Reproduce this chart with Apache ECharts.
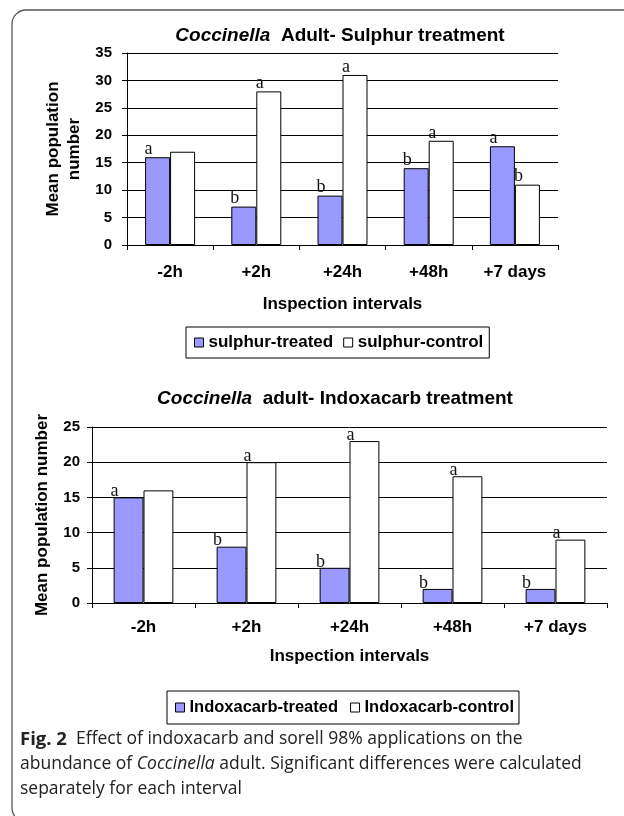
<!DOCTYPE html>
<html>
<head>
<meta charset="utf-8">
<script src="https://cdn.jsdelivr.net/npm/echarts@6/dist/echarts.min.js"></script>
<style>
html,body{margin:0;padding:0;background:#fff;}
#chart{width:624px;height:816px;}
</style>
</head>
<body>
<div id="chart"></div>
<script>
const categories = ['-2h', '+2h', '+24h', '+48h', '+7 days'];

const sulphurTreated = [16, 7, 9, 14, 18];
const sulphurControl = [17, 28, 31, 19, 11];
const sulphurTreatedLetters = ['a', 'b', 'b', 'b', 'a'];
const sulphurControlLetters = ['', 'a', 'a', 'a', 'b'];

const indoxTreated = [15, 8, 5, 2, 2];
const indoxControl = [16, 20, 23, 18, 9];
const indoxTreatedLetters = ['a', 'b', 'b', 'b', 'b'];
const indoxControlLetters = ['', 'a', 'a', 'a', 'a'];

const sulphurYMax = 35, sulphurYStep = 5;
const indoxYMax = 25, indoxYStep = 5;

const SANS = '"Liberation Sans", Arial, sans-serif';
const SERIF = '"Liberation Serif", "Times New Roman", serif';
const TREATED = '#9999FF';

function withLetters(values, letters) {
  return values.map((v, i) => ({ value: v, letter: letters[i] }));
}

function letterLabel(offsetX, dist) {
  return {
    show: true, position: 'top', distance: dist, offset: [offsetX, 0],
    fontFamily: SERIF, fontSize: 18, color: '#111',
    formatter: p => p.data.letter || ''
  };
}

function xAxisCfg(gridIndex, margin, nameGap) {
  return {
    type: 'category', gridIndex, data: categories,
    name: 'Inspection intervals', nameLocation: 'middle', nameGap,
    nameTextStyle: { fontFamily: SANS, fontWeight: 'bold', fontSize: 17, color: '#000' },
    axisLine: { lineStyle: { color: '#000', width: 1 } },
    axisTick: { show: true, length: 5, lineStyle: { color: '#000' } },
    axisLabel: { margin, fontFamily: SANS, fontWeight: 'bold', fontSize: 17, color: '#000' }
  };
}

function yAxisCfg(gridIndex, max, step, name, nameGap, margin) {
  return {
    type: 'value', gridIndex, min: 0, max, interval: step,
    name, nameLocation: 'middle', nameGap, nameRotate: 90,
    nameTextStyle: { fontFamily: SANS, fontWeight: 'bold', fontSize: 17, color: '#000', lineHeight: 21 },
    axisLine: { show: true, lineStyle: { color: '#000', width: 1 } },
    axisTick: { show: true, length: 5, lineStyle: { color: '#000' } },
    axisLabel: { margin, fontFamily: SANS, fontWeight: 'bold', fontSize: 15, color: '#000' },
    splitLine: { show: true, lineStyle: { color: '#000', width: 1 } }
  };
}

function barSeries(name, data, axisIdx, color, lx, ld) {
  return {
    type: 'bar', name, data, xAxisIndex: axisIdx, yAxisIndex: axisIdx,
    barGap: '0%', barCategoryGap: '42%',
    itemStyle: { color, borderColor: '#000', borderWidth: 1 },
    label: letterLabel(lx, ld),
    emphasis: { disabled: true }
  };
}

const titleStyle = {
  fontFamily: SANS, fontWeight: 'bold', fontSize: 19, color: '#000',
  rich: { i: { fontFamily: SANS, fontWeight: 'bold', fontStyle: 'italic', fontSize: 19, color: '#000' } }
};

const chart = echarts.init(document.getElementById('chart'), null, { renderer: 'canvas' });
chart.setOption({
  animation: false,
  backgroundColor: '#fff',
  title: [
    { text: '{i|Coccinella}  Adult- Sulphur treatment', left: 340, top: 26, textAlign: 'center', padding: 0, textStyle: titleStyle },
    { text: '{i|Coccinella}  adult- Indoxacarb treatment', left: 335, top: 389, textAlign: 'center', padding: 0, textStyle: titleStyle }
  ],
  grid: [
    { left: 127, top: 53, width: 431, height: 192 },
    { left: 92, top: 427, width: 515, height: 176 }
  ],
  xAxis: [xAxisCfg(0, 19, 51), xAxisCfg(1, 16, 45)],
  yAxis: [
    yAxisCfg(0, sulphurYMax, sulphurYStep, 'Mean population\nnumber', 42, 15),
    yAxisCfg(1, indoxYMax, indoxYStep, 'Mean population number', 31, 12)
  ],
  legend: [
    {
      data: ['sulphur-treated', 'sulphur-control'], left: 186, top: 327,
      orient: 'horizontal', itemWidth: 9, itemHeight: 9, itemGap: 10,
      padding: [7, 6, 7, 8], borderColor: '#000', borderWidth: 1,
      icon: 'rect', itemStyle: { borderColor: '#000', borderWidth: 1 },
      textStyle: { fontFamily: SANS, fontWeight: 'bold', fontSize: 17, color: '#000' }, selectedMode: false
    },
    {
      data: ['Indoxacarb-treated', 'Indoxacarb-control'], left: 167, top: 691,
      orient: 'horizontal', itemWidth: 9, itemHeight: 9, itemGap: 12,
      padding: [8, 5, 8, 8], borderColor: '#000', borderWidth: 1,
      icon: 'rect', itemStyle: { borderColor: '#000', borderWidth: 1 },
      textStyle: { fontFamily: SANS, fontWeight: 'bold', fontSize: 16.5, color: '#000' }, selectedMode: false
    }
  ],
  series: [
    barSeries('sulphur-treated', withLetters(sulphurTreated, sulphurTreatedLetters), 0, TREATED, -9, -1),
    barSeries('sulphur-control', withLetters(sulphurControl, sulphurControlLetters), 0, '#fff', -9, -1),
    barSeries('Indoxacarb-treated', withLetters(indoxTreated, indoxTreatedLetters), 1, TREATED, -14, -3),
    barSeries('Indoxacarb-control', withLetters(indoxControl, indoxControlLetters), 1, '#fff', -14, -3)
  ],
  graphic: [
    {
      type: 'rect', z: -1, silent: true,
      shape: { x: 12, y: 10, width: 700, height: 812, r: 14 },
      style: { fill: 'none', stroke: '#555', lineWidth: 1.3 }
    },
    {
      type: 'text', left: 20, top: 727, silent: true,
      style: {
        text: '{b|Fig. 2}  Effect of indoxacarb and sorell 98% applications on the\nabundance of {i|Coccinella} adult. Significant differences were calculated\nseparately for each interval',
        font: '17.5px "Open Sans", sans-serif', fill: '#222', lineHeight: 25,
        rich: {
          b: { fontFamily: '"Open Sans", sans-serif', fontWeight: 'bold', fontSize: 18.5, fill: '#222', lineHeight: 25 },
          i: { fontFamily: '"Open Sans", sans-serif', fontStyle: 'italic', fontSize: 17.5, fill: '#222', lineHeight: 25 }
        }
      }
    }
  ]
});
</script>
</body>
</html>
